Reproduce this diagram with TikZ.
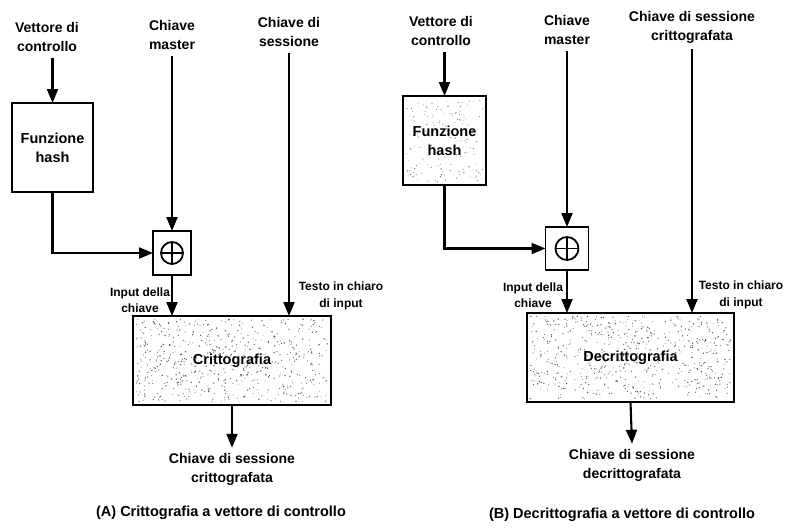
\documentclass[tikz,border=0pt]{standalone}
\usepackage{fontspec}
\setmainfont{Liberation Sans}
\usetikzlibrary{arrows.meta}

\tikzset{
  lab/.style={font=\bfseries\fontsize{14}{19}\selectfont, align=center, inner sep=0pt},
  small/.style={font=\bfseries\fontsize{12}{16.5}\selectfont, align=center, inner sep=0pt},
  captext/.style={font=\bfseries\fontsize{14.5}{18}\selectfont, inner sep=0pt},
  fbox/.style={draw, line width=2.6pt, inner sep=0pt, outer sep=0pt,
    font=\bfseries\fontsize{14.5}{19}\selectfont, align=center},
  xorbox/.style={draw, line width=1.8pt, inner sep=0pt, outer sep=0pt},
  arr/.style={line width=2.1pt, -{Triangle[length=14pt,width=11pt]}},
}

\begin{document}
\begin{tikzpicture}[x=1pt, y=-1pt]
\useasboundingbox (0,0) rectangle (790,531);

% speckled grain inside the shaded boxes
\pgfmathsetseed{11}
\foreach \k in {1,...,600}
  \fill[black!65] ({136+rnd*192},{319+rnd*83}) circle ({0.4+0.4*rnd});
\foreach \k in {1,...,600}
  \fill[black!65] ({530+rnd*201},{316+rnd*83}) circle ({0.4+0.4*rnd});
\foreach \k in {1,...,160}
  \fill[black!55] ({406+rnd*77},{99+rnd*83}) circle ({0.35+0.35*rnd});

% ---------------- (A) encryption ----------------
\node[lab] (vA) at (47,37) {Vettore di\\controllo};
\node[lab] (mA) at (172,35) {Chiave\\master};
\node[lab] (sA) at (289,32) {Chiave di\\sessione};

\node[fbox, minimum width=81pt, minimum height=89pt] (hashA) at (52.5,147.5) {Funzione\\hash};
\node[xorbox, minimum width=38pt, minimum height=44pt] (xorA) at (172,253) {};
\draw[line width=1.8pt] (xorA.center) circle (11);
\draw[line width=1.8pt] ([xshift=-11pt]xorA.center) -- ([xshift=11pt]xorA.center)
                        ([yshift=-11pt]xorA.center) -- ([yshift=11pt]xorA.center);
\node[fbox, minimum width=198pt, minimum height=89pt] (cryA) at (232,360.5) {Crittografia};

\node[small] (inA) at (140,300) {Input della\\chiave};
\node[small] (ptA) at (341,296) {Testo in chiaro\\di input};
\node[lab] (outA) at (232,469) {Chiave di sessione\\crittografata};
\node[captext] (capA) at (221,513) {(A) Crittografia a vettore di controllo};

\draw[arr] (hashA.north |- vA.south) ++(0,6) -- (hashA.north);
\draw[arr] (mA.south) ++(0,6) -- (xorA.north);
\draw[arr] (hashA.south) |- (xorA.west);
\draw[arr] (xorA.south) -- (xorA.south |- cryA.north);
\draw[arr] (sA.south) ++(0,6) -- (sA.south |- cryA.north);
\draw[arr] (cryA.south) -- ([yshift=5]outA.north);

% ---------------- (B) decryption ----------------
\node[lab] (vB) at (441,31) {Vettore di\\controllo};
\node[lab] (mB) at (567,30) {Chiave\\master};
\node[lab] (sB) at (692,27) {Chiave di sessione\\crittografata};

\node[fbox, minimum width=83pt, minimum height=89pt] (hashB) at (444.5,140.5) {Funzione\\hash};
\node[xorbox, minimum width=43pt, minimum height=43pt] (xorB) at (567,248.5) {};
\draw[line width=1.8pt] (xorB.center) circle (11.5);
\draw[line width=1.8pt] ([xshift=-11.5pt]xorB.center) -- ([xshift=11.5pt]xorB.center)
                        ([yshift=-11.5pt]xorB.center) -- ([yshift=11.5pt]xorB.center);
\node[fbox, minimum width=207pt, minimum height=89pt] (decB) at (630.5,357.5) {Decrittografia};

\node[small] (inB) at (533,295) {Input della\\chiave};
\node[small] (ptB) at (741,295) {Testo in chiaro\\di input};
\node[lab] (outB) at (632,465) {Chiave di sessione\\decrittografata};
\node[captext] (capB) at (622,515) {(B) Decrittografia a vettore di controllo};

\draw[arr] (hashB.north |- vB.south) ++(0,6) -- (hashB.north);
\draw[arr] (mB.south) ++(0,6) -- (xorB.north);
\draw[arr] (hashB.south) |- (xorB.west);
\draw[arr] (xorB.south) -- (xorB.south |- decB.north);
\draw[arr] (sB.south) ++(0,6) -- (sB.south |- decB.north);
\draw[arr] (decB.south) -- ([yshift=5]outB.north);
\end{tikzpicture}
\end{document}
